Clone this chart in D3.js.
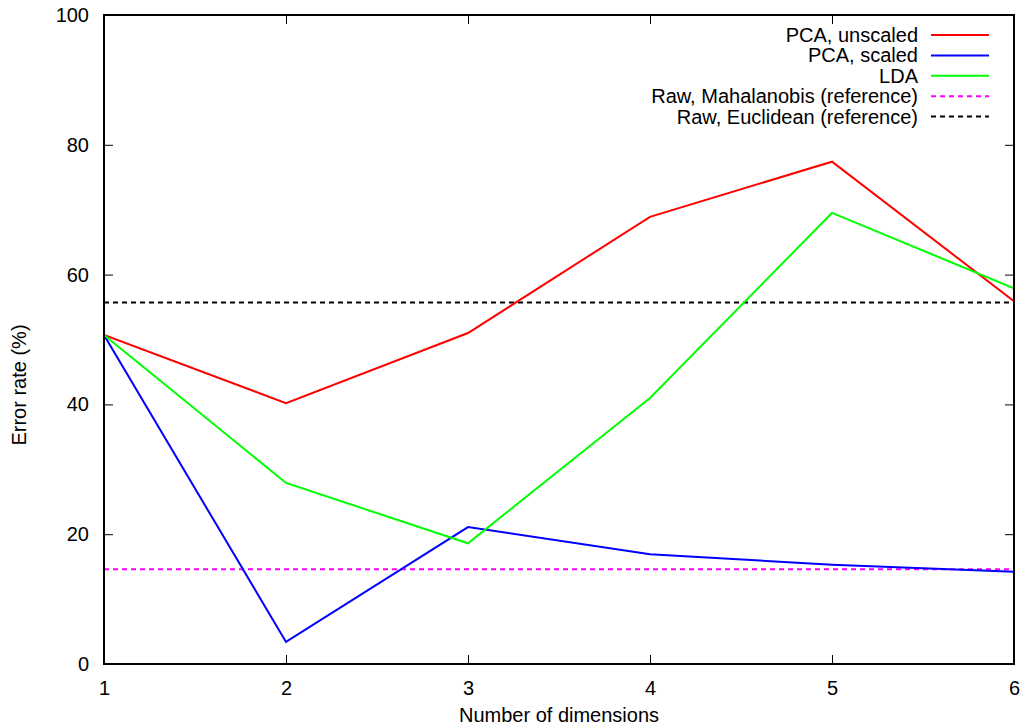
<!DOCTYPE html>
<html>
<head>
<meta charset="utf-8">
<script src="https://cdn.jsdelivr.net/npm/d3@7"></script>
<style>
  html, body { margin: 0; padding: 0; background: #fff; }
  svg { display: block; font-family: "Liberation Sans", Arial, Helvetica, sans-serif; }
</style>
</head>
<body>
<svg id="chart" width="1022" height="727"></svg>
<script>
// Error rate (%) by number of retained dimensions
const dims = [1, 2, 3, 4, 5, 6];
const pcaUnscaled = [50.7, 40.2, 51.0, 68.9, 77.4, 55.9];
const pcaScaled   = [50.7, 3.4, 21.1, 16.9, 15.3, 14.2];
const lda         = [50.7, 27.9, 18.6, 41.0, 69.5, 57.9];
const mahalanobisRef = 14.6;
const euclideanRef   = 55.7;
const xTicks = [1, 2, 3, 4, 5, 6];
const yTicks = [0, 20, 40, 60, 80, 100];

const series = [
  { name: "PCA, unscaled", values: pcaUnscaled, color: "#ff0000" },
  { name: "PCA, scaled", values: pcaScaled, color: "#0000ff" },
  { name: "LDA", values: lda, color: "#00ff00" }
];
const refs = [
  { name: "Raw, Mahalanobis (reference)", value: mahalanobisRef, color: "#ff00ff", dash: "5,4" },
  { name: "Raw, Euclidean (reference)", value: euclideanRef, color: "#000000", dash: "5,4" }
];

const margin = { left: 104, right: 8, top: 15, bottom: 63 };
const W = 1022, H = 727;
const svg = d3.select("#chart");

const x = d3.scaleLinear().domain([1, 6]).range([margin.left, W - margin.right]);
const y = d3.scaleLinear().domain([0, 100]).range([H - margin.bottom, margin.top]);

const tickLen = 9;
const fontSize = 20;

// plot clip
svg.append("defs").append("clipPath").attr("id", "plotClip")
  .append("rect")
  .attr("x", x(1)).attr("y", y(100))
  .attr("width", x(6) - x(1)).attr("height", y(0) - y(100));

const plot = svg.append("g").attr("clip-path", "url(#plotClip)");

// reference lines
refs.forEach(r => {
  plot.append("line")
    .attr("x1", x(1)).attr("x2", x(6))
    .attr("y1", y(r.value)).attr("y2", y(r.value))
    .attr("stroke", r.color).attr("stroke-width", 2)
    .attr("stroke-dasharray", r.dash);
});

// series lines
const line = d3.line().x((d, i) => x(dims[i])).y(d => y(d));
series.forEach(s => {
  plot.append("path")
    .datum(s.values)
    .attr("d", line)
    .attr("fill", "none")
    .attr("stroke", s.color)
    .attr("stroke-width", 2);
});

// axes: ticks pointing inward on all four sides, labels on left and bottom
const fmt = d3.format("d");
const axisLeft = d3.axisLeft(y).tickValues(yTicks).tickSize(-tickLen).tickPadding(15).tickFormat(fmt);
const axisRight = d3.axisRight(y).tickValues(yTicks).tickSize(-tickLen).tickFormat("");
const axisBottom = d3.axisBottom(x).tickValues(xTicks).tickSize(-tickLen).tickPadding(17).tickFormat(fmt);
const axisTop = d3.axisTop(x).tickValues(xTicks).tickSize(-tickLen).tickFormat("");

function styleAxis(g) {
  g.select(".domain").remove();
  g.selectAll(".tick line").attr("stroke", "#000").attr("stroke-width", 1);
  g.selectAll(".tick text").attr("fill", "#000").style("font-size", fontSize + "px")
    .style("font-family", '"Liberation Sans", Arial, sans-serif');
}

svg.append("g").attr("transform", `translate(${x(1)},0)`).call(axisLeft).call(styleAxis);
svg.append("g").attr("transform", `translate(${x(6)},0)`).call(axisRight).call(styleAxis);
svg.append("g").attr("transform", `translate(0,${y(0)})`).call(axisBottom).call(styleAxis);
svg.append("g").attr("transform", `translate(0,${y(100)})`).call(axisTop).call(styleAxis);

// frame
svg.append("rect")
  .attr("x", x(1)).attr("y", y(100))
  .attr("width", x(6) - x(1)).attr("height", y(0) - y(100))
  .attr("fill", "none").attr("stroke", "#000").attr("stroke-width", 2);

// axis titles
svg.append("text")
  .attr("x", (x(1) + x(6)) / 2).attr("y", 722)
  .attr("text-anchor", "middle")
  .style("font-size", fontSize + "px")
  .text("Number of dimensions");

svg.append("text")
  .attr("transform", `translate(26,385) rotate(-90)`)
  .attr("text-anchor", "middle")
  .style("font-size", fontSize + "px")
  .text("Error rate (%)");

// legend
const legendItems = series.map(s => ({ name: s.name, color: s.color, dash: null }))
  .concat(refs.map(r => ({ name: r.name, color: r.color, dash: r.dash })));
const legend = svg.append("g");
legendItems.forEach((d, i) => {
  const ly = 35 + i * 20.4;
  legend.append("text")
    .attr("x", 918).attr("y", ly)
    .attr("dy", "0.35em")
    .attr("text-anchor", "end")
    .style("font-size", fontSize + "px")
    .text(d.name);
  legend.append("line")
    .attr("x1", 931).attr("x2", 989)
    .attr("y1", ly).attr("y2", ly)
    .attr("stroke", d.color).attr("stroke-width", 2)
    .attr("stroke-dasharray", d.dash);
});
</script>
</body>
</html>
